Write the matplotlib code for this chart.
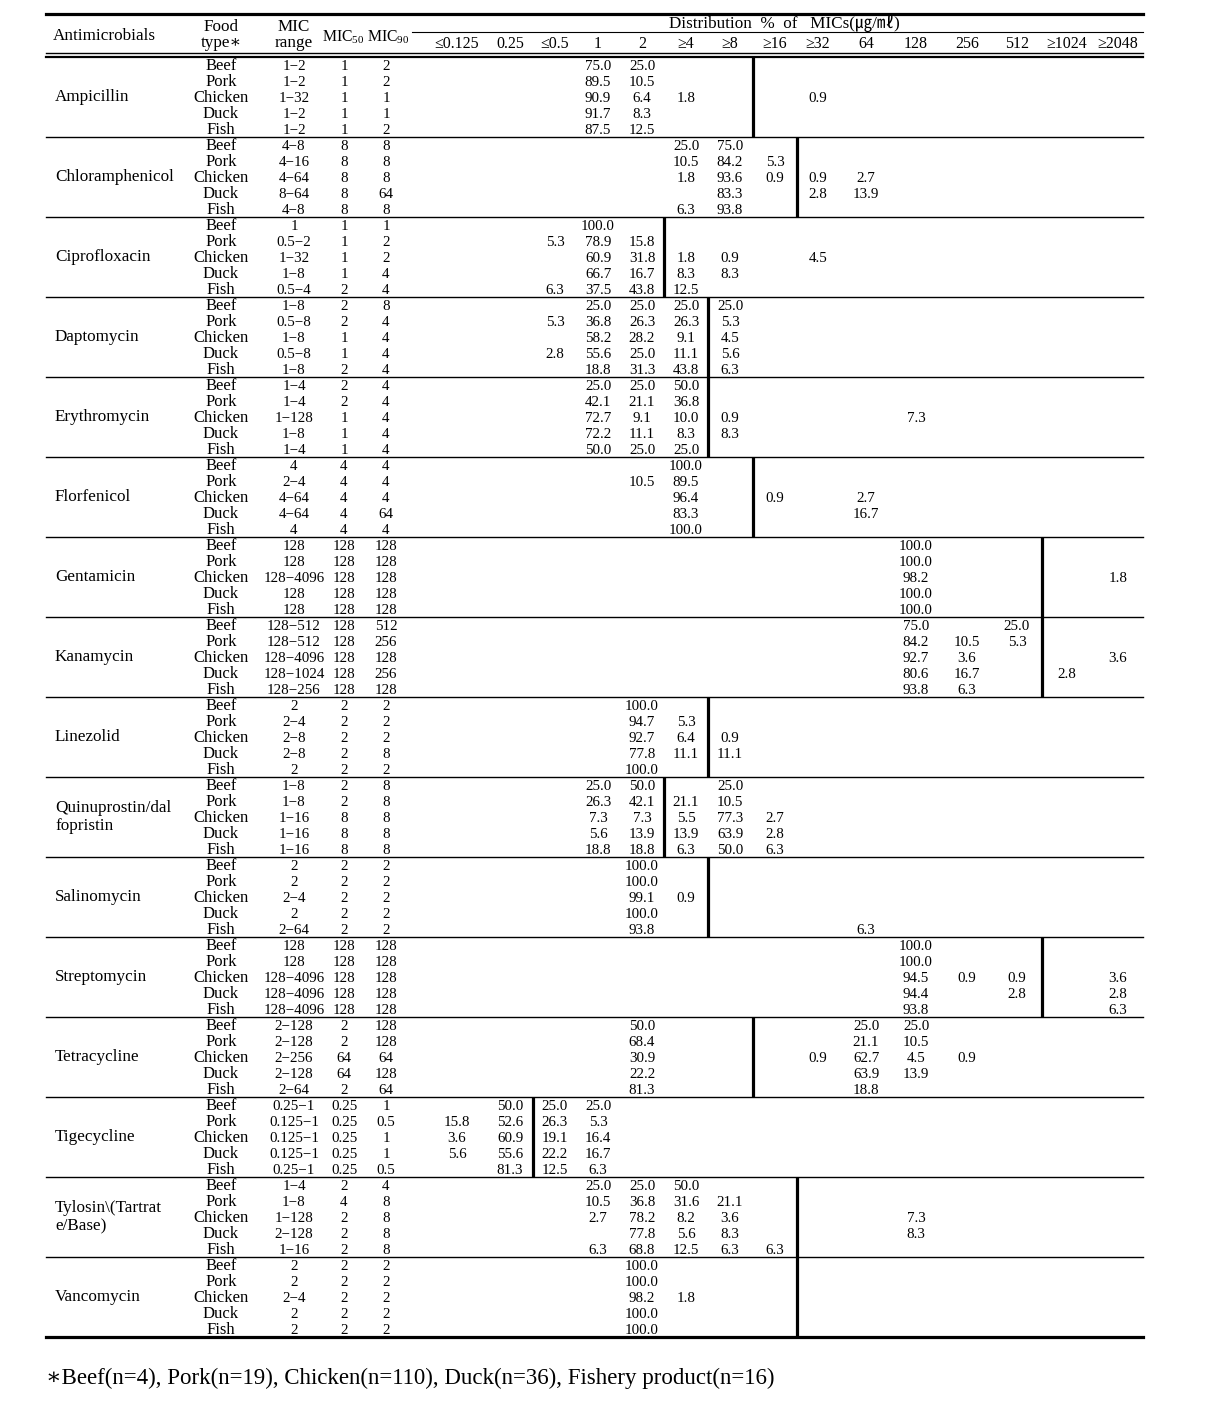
import matplotlib
matplotlib.use('Agg')
import matplotlib.pyplot as plt

plt.rcParams['font.family'] = ['Liberation Serif', 'DejaVu Serif', 'Noto Sans CJK KR']
plt.rcParams['mathtext.fontset'] = 'custom'
plt.rcParams['mathtext.rm'] = 'Liberation Serif'

################# Table data #################

drugs = ['Ampicillin', 'Chloramphenicol', 'Ciprofloxacin', 'Daptomycin', 'Erythromycin',
         'Florfenicol', 'Gentamicin', 'Kanamycin', 'Linezolid', 'Quinuprostin/dal\nfopristin',
         'Salinomycin', 'Streptomycin', 'Tetracycline', 'Tigecycline',
         'Tylosin\\(Tartrat\ne/Base)', 'Vancomycin']
foods = ['Beef', 'Pork', 'Chicken', 'Duck', 'Fish']
dist_cols = ['≤0.125', '0.25', '≤0.5', '1', '2', '≥4', '≥8', '≥16', '≥32', '64',
             '128', '256', '512', '≥1024', '≥2048']

mic_range = [
    ['1−2', '1−2', '1−32', '1−2', '1−2'],
    ['4−8', '4−16', '4−64', '8−64', '4−8'],
    ['1', '0.5−2', '1−32', '1−8', '0.5−4'],
    ['1−8', '0.5−8', '1−8', '0.5−8', '1−8'],
    ['1−4', '1−4', '1−128', '1−8', '1−4'],
    ['4', '2−4', '4−64', '4−64', '4'],
    ['128', '128', '128−4096', '128', '128'],
    ['128−512', '128−512', '128−4096', '128−1024', '128−256'],
    ['2', '2−4', '2−8', '2−8', '2'],
    ['1−8', '1−8', '1−16', '1−16', '1−16'],
    ['2', '2', '2−4', '2', '2−64'],
    ['128', '128', '128−4096', '128−4096', '128−4096'],
    ['2−128', '2−128', '2−256', '2−128', '2−64'],
    ['0.25−1', '0.125−1', '0.125−1', '0.125−1', '0.25−1'],
    ['1−4', '1−8', '1−128', '2−128', '1−16'],
    ['2', '2', '2−4', '2', '2'],
]
mic50 = [
    ['1', '1', '1', '1', '1'],
    ['8', '8', '8', '8', '8'],
    ['1', '1', '1', '1', '2'],
    ['2', '2', '1', '1', '2'],
    ['2', '2', '1', '1', '1'],
    ['4', '4', '4', '4', '4'],
    ['128', '128', '128', '128', '128'],
    ['128', '128', '128', '128', '128'],
    ['2', '2', '2', '2', '2'],
    ['2', '2', '8', '8', '8'],
    ['2', '2', '2', '2', '2'],
    ['128', '128', '128', '128', '128'],
    ['2', '2', '64', '64', '2'],
    ['0.25', '0.25', '0.25', '0.25', '0.25'],
    ['2', '4', '2', '2', '2'],
    ['2', '2', '2', '2', '2'],
]
mic90 = [
    ['2', '2', '1', '1', '2'],
    ['8', '8', '8', '64', '8'],
    ['1', '2', '2', '4', '4'],
    ['8', '4', '4', '4', '4'],
    ['4', '4', '4', '4', '4'],
    ['4', '4', '4', '64', '4'],
    ['128', '128', '128', '128', '128'],
    ['512', '256', '128', '256', '128'],
    ['2', '2', '2', '8', '2'],
    ['8', '8', '8', '8', '8'],
    ['2', '2', '2', '2', '2'],
    ['128', '128', '128', '128', '128'],
    ['128', '128', '64', '128', '64'],
    ['1', '0.5', '1', '1', '0.5'],
    ['4', '8', '8', '8', '8'],
    ['2', '2', '2', '2', '2'],
]

# distribution % per food type (Beef, Pork, Chicken, Duck, Fish)
distribution = [
    [{'1': 75.0, '2': 25.0}, {'1': 89.5, '2': 10.5},
     {'1': 90.9, '2': 6.4, '≥4': 1.8, '≥32': 0.9}, {'1': 91.7, '2': 8.3}, {'1': 87.5, '2': 12.5}],
    [{'≥4': 25.0, '≥8': 75.0}, {'≥4': 10.5, '≥8': 84.2, '≥16': 5.3},
     {'≥4': 1.8, '≥8': 93.6, '≥16': 0.9, '≥32': 0.9, '64': 2.7},
     {'≥8': 83.3, '≥32': 2.8, '64': 13.9}, {'≥4': 6.3, '≥8': 93.8}],
    [{'1': 100.0}, {'≤0.5': 5.3, '1': 78.9, '2': 15.8},
     {'1': 60.9, '2': 31.8, '≥4': 1.8, '≥8': 0.9, '≥32': 4.5},
     {'1': 66.7, '2': 16.7, '≥4': 8.3, '≥8': 8.3},
     {'≤0.5': 6.3, '1': 37.5, '2': 43.8, '≥4': 12.5}],
    [{'1': 25.0, '2': 25.0, '≥4': 25.0, '≥8': 25.0},
     {'≤0.5': 5.3, '1': 36.8, '2': 26.3, '≥4': 26.3, '≥8': 5.3},
     {'1': 58.2, '2': 28.2, '≥4': 9.1, '≥8': 4.5},
     {'≤0.5': 2.8, '1': 55.6, '2': 25.0, '≥4': 11.1, '≥8': 5.6},
     {'1': 18.8, '2': 31.3, '≥4': 43.8, '≥8': 6.3}],
    [{'1': 25.0, '2': 25.0, '≥4': 50.0}, {'1': 42.1, '2': 21.1, '≥4': 36.8},
     {'1': 72.7, '2': 9.1, '≥4': 10.0, '≥8': 0.9, '128': 7.3},
     {'1': 72.2, '2': 11.1, '≥4': 8.3, '≥8': 8.3}, {'1': 50.0, '2': 25.0, '≥4': 25.0}],
    [{'≥4': 100.0}, {'2': 10.5, '≥4': 89.5}, {'≥4': 96.4, '≥16': 0.9, '64': 2.7},
     {'≥4': 83.3, '64': 16.7}, {'≥4': 100.0}],
    [{'128': 100.0}, {'128': 100.0}, {'128': 98.2, '≥2048': 1.8}, {'128': 100.0}, {'128': 100.0}],
    [{'128': 75.0, '512': 25.0}, {'128': 84.2, '256': 10.5, '512': 5.3},
     {'128': 92.7, '256': 3.6, '≥2048': 3.6}, {'128': 80.6, '256': 16.7, '≥1024': 2.8},
     {'128': 93.8, '256': 6.3}],
    [{'2': 100.0}, {'2': 94.7, '≥4': 5.3}, {'2': 92.7, '≥4': 6.4, '≥8': 0.9},
     {'2': 77.8, '≥4': 11.1, '≥8': 11.1}, {'2': 100.0}],
    [{'1': 25.0, '2': 50.0, '≥8': 25.0}, {'1': 26.3, '2': 42.1, '≥4': 21.1, '≥8': 10.5},
     {'1': 7.3, '2': 7.3, '≥4': 5.5, '≥8': 77.3, '≥16': 2.7},
     {'1': 5.6, '2': 13.9, '≥4': 13.9, '≥8': 63.9, '≥16': 2.8},
     {'1': 18.8, '2': 18.8, '≥4': 6.3, '≥8': 50.0, '≥16': 6.3}],
    [{'2': 100.0}, {'2': 100.0}, {'2': 99.1, '≥4': 0.9}, {'2': 100.0}, {'2': 93.8, '64': 6.3}],
    [{'128': 100.0}, {'128': 100.0}, {'128': 94.5, '256': 0.9, '512': 0.9, '≥2048': 3.6},
     {'128': 94.4, '512': 2.8, '≥2048': 2.8}, {'128': 93.8, '≥2048': 6.3}],
    [{'2': 50.0, '64': 25.0, '128': 25.0}, {'2': 68.4, '64': 21.1, '128': 10.5},
     {'2': 30.9, '≥32': 0.9, '64': 62.7, '128': 4.5, '256': 0.9},
     {'2': 22.2, '64': 63.9, '128': 13.9}, {'2': 81.3, '64': 18.8}],
    [{'0.25': 50.0, '≤0.5': 25.0, '1': 25.0},
     {'≤0.125': 15.8, '0.25': 52.6, '≤0.5': 26.3, '1': 5.3},
     {'≤0.125': 3.6, '0.25': 60.9, '≤0.5': 19.1, '1': 16.4},
     {'≤0.125': 5.6, '0.25': 55.6, '≤0.5': 22.2, '1': 16.7},
     {'0.25': 81.3, '≤0.5': 12.5, '1': 6.3}],
    [{'1': 25.0, '2': 25.0, '≥4': 50.0}, {'1': 10.5, '2': 36.8, '≥4': 31.6, '≥8': 21.1},
     {'1': 2.7, '2': 78.2, '≥4': 8.2, '≥8': 3.6, '128': 7.3},
     {'2': 77.8, '≥4': 5.6, '≥8': 8.3, '128': 8.3},
     {'1': 6.3, '2': 68.8, '≥4': 12.5, '≥8': 6.3, '≥16': 6.3}],
    [{'2': 100.0}, {'2': 100.0}, {'2': 98.2, '≥4': 1.8}, {'2': 100.0}, {'2': 100.0}],
]

# thick line drawn after this MIC column (resistance breakpoint)
breakpoint_after = ['≥8', '≥16', '2', '≥4', '≥4', '≥8', '512', '512', '≥4', '2',
                    '≥4', '512', '≥8', '0.25', '≥16', '≥16']

footnote = '∗Beef(n=4), Pork(n=19), Chicken(n=110), Duck(n=36), Fishery product(n=16)'

################# Layout (pixel units) #################

x_left, x_right = 46, 1143
x_name, x_food, x_range, x_50, x_90 = 55, 221, 294, 344, 386
x_dist = [457, 510, 555, 598, 642, 686, 730, 775, 818, 866, 916, 967, 1017, 1067, 1118]
y_body = 57      # top of first group
row_h = 16
grp_h = row_h * len(foods)
num_fs = 10.8
food_fs = 12
name_fs = 12.3

fig = plt.figure(figsize=(12.24, 14.07), dpi=100)
ax = fig.add_axes([0, 0, 1, 1])
ax.set_xlim(0, 1224)
ax.set_ylim(1407, 0)
ax.axis('off')

# header
ax.plot([x_left, x_right], [14, 14], color='black', lw=2.3)
ax.plot([412, x_right], [32, 32], color='black', lw=0.8)
ax.plot([x_left, x_right], [52.5, 52.5], color='black', lw=1.0)
ax.plot([x_left, x_right], [56.5, 56.5], color='black', lw=1.6)

ax.text(104, 36, 'Antimicrobials', ha='center', va='center', fontsize=name_fs)
ax.text(x_food, 35, 'Food\ntype∗', ha='center', va='center', fontsize=name_fs, linespacing=1.0)
ax.text(x_range, 35, 'MIC\nrange', ha='center', va='center', fontsize=name_fs, linespacing=1.0)
ax.text(x_50 - 1, 37, r'MIC$_{50}$', ha='center', va='center', fontsize=11.3)
ax.text(x_90 + 2, 37, r'MIC$_{90}$', ha='center', va='center', fontsize=11.3)
ax.text(784, 23, 'Distribution  %  of   MICs(㎍/㎖)', ha='center', va='center', fontsize=name_fs)
for lab, xc in zip(dist_cols, x_dist):
    ax.text(xc, 44, lab, ha='center', va='center', fontsize=11.5)

# body
for g, drug in enumerate(drugs):
    y0 = y_body + g * grp_h
    ax.text(x_name, y0 + grp_h / 2, drug, ha='left', va='center',
            fontsize=name_fs, linespacing=1.2)
    for r, food in enumerate(foods):
        yc = y0 + row_h / 2 + r * row_h + 1
        ax.text(x_food, yc, food, ha='center', va='center', fontsize=food_fs)
        ax.text(x_range, yc, mic_range[g][r], ha='center', va='center', fontsize=num_fs)
        ax.text(x_50, yc, mic50[g][r], ha='center', va='center', fontsize=num_fs)
        ax.text(x_90, yc, mic90[g][r], ha='center', va='center', fontsize=num_fs)
        for col, val in distribution[g][r].items():
            ax.text(x_dist[dist_cols.index(col)], yc, '%.1f' % val,
                    ha='center', va='center', fontsize=num_fs)
    # breakpoint line
    k = dist_cols.index(breakpoint_after[g])
    xb = (x_dist[k] + x_dist[k + 1]) / 2
    ax.plot([xb, xb], [y0, y0 + grp_h], color='black', lw=2.3, solid_capstyle='butt')
    # separator
    if g < len(drugs) - 1:
        ax.plot([x_left, x_right], [y0 + grp_h, y0 + grp_h], color='black', lw=1.0)
    else:
        ax.plot([x_left, x_right], [y0 + grp_h, y0 + grp_h], color='black', lw=2.3)

ax.text(x_left, 1378, footnote, ha='left', va='center', fontsize=16.5)

fig.savefig('out.png', dpi=100)
